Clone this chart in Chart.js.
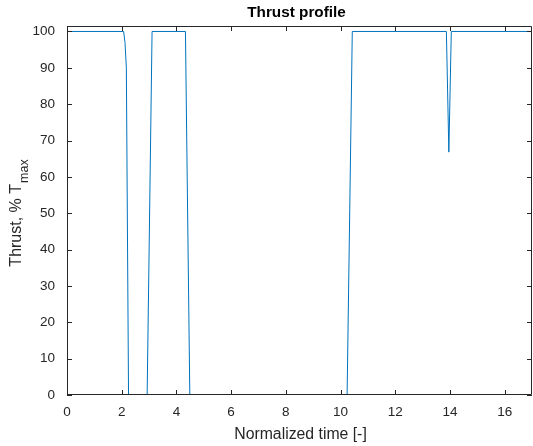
<!DOCTYPE html>
<html>
<head>
<meta charset="utf-8">
<script src="https://cdn.jsdelivr.net/npm/chart.js@4"></script>
<style>
html,body{margin:0;padding:0;background:#fff;}
#wrap{width:533px;height:446px;position:relative;}
</style>
</head>
<body>
<div id="wrap"><canvas id="c" width="533" height="446"></canvas></div>
<script>
// Data
const timeVals   = [0, 2.07, 2.12, 2.17, 2.25, 2.93, 3.11, 4.33, 4.49, 10.24, 10.43, 13.87, 13.96, 14.05, 17];
const thrustVals = [100, 100, 97, 90, 0, 0, 100, 100, 0, 0, 100, 100, 66.8, 100, 100];
const xTickVals  = [0, 2, 4, 6, 8, 10, 12, 14, 16];
const yTickVals  = [0, 10, 20, 30, 40, 50, 60, 70, 80, 90, 100];

const titleText = 'Thrust profile';
const xLabel = 'Normalized time [-]';
const yLabelMain = 'Thrust, % T';
const yLabelSub = 'max';

const FONT = '"Liberation Sans", Arial, Helvetica, sans-serif';
const AXC = '#262626';

const points = timeVals.map((t, i) => ({x: t, y: thrustVals[i]}));

const decor = {
  id: 'decor',
  afterDraw(chart) {
    const ctx = chart.ctx;
    const a = chart.chartArea;
    const xs = chart.scales.x, ys = chart.scales.y;
    ctx.save();
    ctx.strokeStyle = AXC;
    ctx.lineWidth = 1;
    // box
    ctx.beginPath();
    ctx.rect(Math.round(a.left) + 0.5, Math.round(a.top) + 0.5, Math.round(a.right - a.left) - 1, Math.round(a.bottom - a.top) - 1);
    ctx.stroke();
    // inner ticks
    const TL = 5;
    ctx.beginPath();
    xTickVals.forEach(v => {
      const px = Math.round(xs.getPixelForValue(v)) + 0.5;
      ctx.moveTo(px, a.bottom); ctx.lineTo(px, a.bottom - TL);
      ctx.moveTo(px, a.top); ctx.lineTo(px, a.top + TL);
    });
    yTickVals.forEach(v => {
      const py = Math.round(ys.getPixelForValue(v)) + 0.5;
      ctx.moveTo(a.left, py); ctx.lineTo(a.left + TL, py);
      ctx.moveTo(a.right, py); ctx.lineTo(a.right - TL, py);
    });
    ctx.stroke();
    // title
    ctx.fillStyle = '#000';
    ctx.font = 'bold 15.3px ' + FONT;
    ctx.textAlign = 'center';
    ctx.textBaseline = 'middle';
    ctx.fillText(titleText, (a.left + a.right) / 2 - 3, 13);
    // x label
    ctx.fillStyle = AXC;
    ctx.font = '15.8px ' + FONT;
    ctx.fillText(xLabel, (a.left + a.right) / 2 + 1, 435);
    // y label with subscript
    ctx.translate(21, (a.top + a.bottom) / 2 + 3);
    ctx.rotate(-Math.PI / 2);
    ctx.textBaseline = 'alphabetic';
    ctx.font = '16px ' + FONT;
    const wMain = ctx.measureText(yLabelMain).width;
    ctx.font = '12.5px ' + FONT;
    const wSub = ctx.measureText(yLabelSub).width;
    const total = wMain + wSub;
    ctx.textAlign = 'left';
    ctx.font = '16px ' + FONT;
    ctx.fillText(yLabelMain, -total / 2, 0);
    ctx.font = '12.5px ' + FONT;
    ctx.fillText(yLabelSub, -total / 2 + wMain + 1, 6.5);
    ctx.restore();
  }
};

new Chart(document.getElementById('c'), {
  type: 'line',
  data: {
    datasets: [{
      data: points,
      borderColor: '#0072BD',
      borderWidth: 1,
      pointRadius: 0,
      tension: 0,
      fill: false
    }]
  },
  options: {
    responsive: false,
    animation: false,
    devicePixelRatio: 1,
    layout: {padding: {top: 26, right: 1, left: 0, bottom: 0}},
    plugins: {legend: {display: false}, title: {display: false}, tooltip: {enabled: false}},
    scales: {
      x: {
        type: 'linear',
        min: 0, max: 17,
        grid: {display: false, drawTicks: false},
        border: {display: false},
        afterBuildTicks: s => { s.ticks = xTickVals.map(v => ({value: v})); },
        afterFit: s => { s.height = 51; },
        ticks: {color: AXC, font: {family: FONT, size: 13.5}, padding: 9, maxRotation: 0, autoSkip: false}
      },
      y: {
        min: 0, max: 101.5,
        grid: {display: false, drawTicks: false},
        border: {display: false},
        afterBuildTicks: s => { s.ticks = yTickVals.map(v => ({value: v})); },
        afterFit: s => { s.width = 67; },
        ticks: {color: AXC, font: {family: FONT, size: 13.5}, padding: 12, autoSkip: false}
      }
    }
  },
  plugins: [decor]
});
</script>
</body>
</html>
